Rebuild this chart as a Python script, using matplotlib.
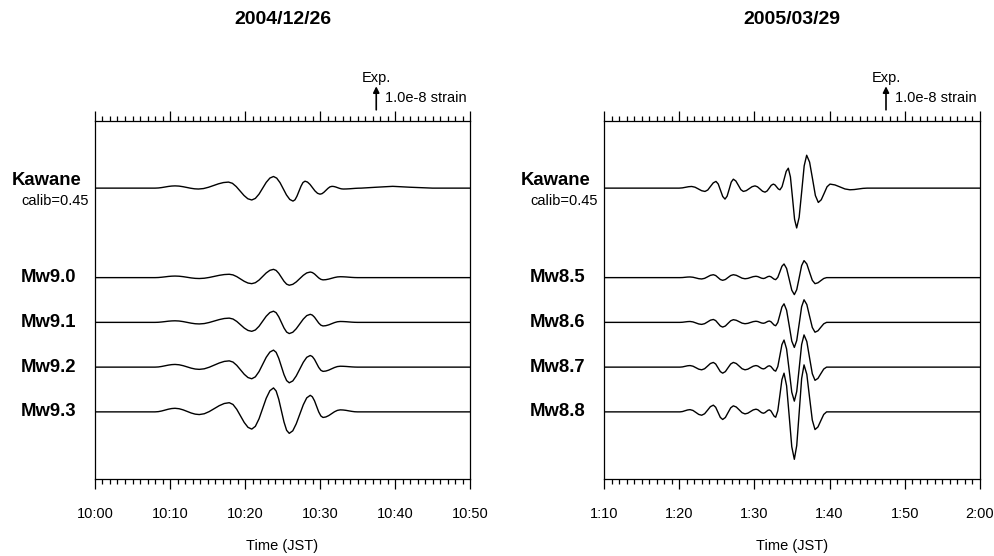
import matplotlib
matplotlib.use('Agg')
import matplotlib.pyplot as plt
import matplotlib.transforms as mtransforms
from matplotlib.ticker import MultipleLocator
import numpy as np

plt.rcParams['font.family'] = ['Liberation Sans', 'DejaVu Sans']

# ---------------- text ----------------
titles = ['2004/12/26', '2005/03/29']
left_ticklabels = ['10:00', '10:10', '10:20', '10:30', '10:40', '10:50']
right_ticklabels = ['1:10', '1:20', '1:30', '1:40', '1:50', '2:00']
left_labels = ['Mw9.0', 'Mw9.1', 'Mw9.2', 'Mw9.3']
right_labels = ['Mw8.5', 'Mw8.6', 'Mw8.7', 'Mw8.8']
obs_label = 'Kawane'
calib_label = 'calib=0.45'
exp_label = 'Exp.'
scale_label = '1.0e-8 strain'
xlabel_text = 'Time (JST)'

# ---------------- data (time in minutes after panel start, strain in 1e-8) ----------------
t_left_obs = [0, 3, 6,
              8.0, 8.45, 8.89, 9.34, 9.78, 10.23,
              10.67, 11.19, 11.71, 12.24, 12.76, 13.28,
              13.8, 14.47, 15.13, 15.8, 16.47, 17.13,
              17.8, 18.32, 18.83, 19.35, 19.87, 20.38,
              20.9, 21.38, 21.87, 22.35, 22.83, 23.32,
              23.8, 24.23, 24.67, 25.1, 25.53, 25.97,
              26.4, 26.67, 26.93, 27.2, 27.47, 27.73,
              28.0, 28.33, 28.67, 29.0, 29.33, 29.67,
              30.0, 30.27, 30.53, 30.8, 31.07, 31.33,
              31.6, 31.85, 32.1, 32.35, 32.6, 32.85,
              33.1, 33.5, 33.9, 34.3, 34.7, 35.1,
              35.5, 37.5, 39.7, 42, 45, 50]
kawane_left = [0, 0, 0,
               0.000, 0.007, 0.025, 0.050, 0.075, 0.093,
               0.100, 0.091, 0.065, 0.030, -0.005, -0.031,
               -0.040, -0.019, 0.038, 0.115, 0.193, 0.249,
               0.270, 0.216, 0.070, -0.130, -0.330, -0.476,
               -0.530, -0.460, -0.268, -0.005, 0.258, 0.450,
               0.520, 0.446, 0.245, -0.030, -0.305, -0.506,
               -0.580, -0.520, -0.358, -0.135, 0.088, 0.250,
               0.310, 0.271, 0.165, 0.020, -0.125, -0.231,
               -0.270, -0.247, -0.183, -0.095, -0.008, 0.057,
               0.080, 0.072, 0.050, 0.020, -0.010, -0.032,
               -0.040, -0.037, -0.030, -0.020, -0.010, -0.003,
               0.000, 0.040, 0.080, 0.040, 0.000, 0.000]

t_left_syn = [0, 2, 4, 6,
              8.0, 8.45, 8.89, 9.34, 9.78, 10.23,
              10.67, 11.21, 11.75, 12.29, 12.82, 13.36,
              13.9, 14.57, 15.23, 15.9, 16.57, 17.23,
              17.9, 18.4, 18.9, 19.4, 19.9, 20.4,
              20.9, 21.38, 21.87, 22.35, 22.83, 23.32,
              23.8, 24.15, 24.5, 24.85, 25.2, 25.55,
              25.9, 26.37, 26.83, 27.3, 27.77, 28.23,
              28.7, 28.98, 29.27, 29.55, 29.83, 30.12,
              30.4, 30.78, 31.17, 31.55, 31.93, 32.32,
              32.7, 33.08, 33.47, 33.85, 34.23, 34.62,
              35.0, 38, 41, 44, 47, 50]
mw90 = [0, 0, 0, 0,
        0.000, 0.005, 0.018, 0.035, 0.053, 0.065,
        0.070, 0.063, 0.043, 0.015, -0.013, -0.033,
        -0.040, -0.027, 0.008, 0.055, 0.103, 0.137,
        0.150, 0.122, 0.045, -0.060, -0.165, -0.242,
        -0.270, -0.227, -0.110, 0.050, 0.210, 0.327,
        0.370, 0.322, 0.193, 0.015, -0.163, -0.292,
        -0.340, -0.300, -0.193, -0.045, 0.103, 0.210,
        0.250, 0.227, 0.163, 0.075, -0.013, -0.077,
        -0.100, -0.091, -0.065, -0.030, 0.005, 0.031,
        0.040, 0.037, 0.030, 0.020, 0.010, 0.003,
        0, 0, 0, 0, 0, 0]
mw91 = [0, 0, 0, 0,
        0.000, 0.005, 0.018, 0.035, 0.053, 0.065,
        0.070, 0.061, 0.035, 0.000, -0.035, -0.061,
        -0.070, -0.053, -0.005, 0.060, 0.125, 0.173,
        0.190, 0.150, 0.043, -0.105, -0.253, -0.360,
        -0.400, -0.340, -0.175, 0.050, 0.275, 0.440,
        0.500, 0.433, 0.250, 0.000, -0.250, -0.433,
        -0.500, -0.442, -0.285, -0.070, 0.145, 0.302,
        0.360, 0.325, 0.230, 0.100, -0.030, -0.125,
        -0.160, -0.147, -0.110, -0.060, -0.010, 0.027,
        0.040, 0.037, 0.030, 0.020, 0.010, 0.003,
        0, 0, 0, 0, 0, 0]
mw92 = [0, 0, 0, 0,
        0.000, 0.008, 0.030, 0.060, 0.090, 0.112,
        0.120, 0.105, 0.065, 0.010, -0.045, -0.085,
        -0.100, -0.075, -0.005, 0.090, 0.185, 0.255,
        0.280, 0.226, 0.080, -0.120, -0.320, -0.466,
        -0.520, -0.434, -0.200, 0.120, 0.440, 0.674,
        0.760, 0.662, 0.395, 0.030, -0.335, -0.602,
        -0.700, -0.618, -0.395, -0.090, 0.215, 0.438,
        0.520, 0.472, 0.343, 0.165, -0.013, -0.142,
        -0.190, -0.175, -0.133, -0.075, -0.018, 0.025,
        0.040, 0.037, 0.030, 0.020, 0.010, 0.003,
        0, 0, 0, 0, 0, 0]
mw93 = [0, 0, 0, 0,
        0.000, 0.011, 0.040, 0.080, 0.120, 0.149,
        0.160, 0.141, 0.090, 0.020, -0.050, -0.101,
        -0.120, -0.084, 0.013, 0.145, 0.278, 0.374,
        0.410, 0.331, 0.115, -0.180, -0.475, -0.691,
        -0.770, -0.647, -0.310, 0.150, 0.610, 0.947,
        1.070, 0.934, 0.563, 0.055, -0.453, -0.824,
        -0.960, -0.846, -0.535, -0.110, 0.315, 0.626,
        0.740, 0.674, 0.493, 0.245, -0.003, -0.184,
        -0.250, -0.227, -0.165, -0.080, 0.005, 0.067,
        0.090, 0.084, 0.068, 0.045, 0.023, 0.006,
        0, 0, 0, 0, 0, 0]

t_right_obs = [0, 4, 8,
               10.00, 10.42, 10.83, 11.25,
               11.66, 12.10, 12.55, 12.99,
               13.43, 13.80, 14.16, 14.53,
               14.89, 15.19, 15.49, 15.79,
               16.09, 16.37, 16.65, 16.92,
               17.20, 17.53, 17.87, 18.20,
               18.53, 18.92, 19.31, 19.69,
               20.08, 20.41, 20.75, 21.08,
               21.41, 21.69, 21.97, 22.24,
               22.52, 22.74, 22.96, 23.18,
               23.40, 23.68, 23.96, 24.23,
               24.51, 24.79, 25.07, 25.34,
               25.62, 25.95, 26.29, 26.62,
               26.95, 27.34, 27.73, 28.11,
               28.50, 28.89, 29.28, 29.66,
               30.05, 30.71, 31.38, 32.04,
               32.70, 33.28, 33.85, 34.43,
               35.0, 40, 45, 50]
kawane_right = [0, 0, 0,
                0.000, 0.011, 0.037, 0.063,
                0.074, 0.042, -0.037, -0.116,
                -0.148, -0.083, 0.076, 0.235,
                0.300, 0.185, -0.095, -0.375,
                -0.490, -0.360, -0.045, 0.270,
                0.400, 0.320, 0.126, -0.068,
                -0.148, -0.112, -0.024, 0.064,
                0.100, 0.059, -0.040, -0.139,
                -0.180, -0.127, 0.000, 0.127,
                0.180, 0.143, 0.053, -0.037,
                -0.074, 0.067, 0.408, 0.749,
                0.890, 0.500, -0.445, -1.390,
                -1.780, -1.306, -0.155, 0.996,
                1.470, 1.162, 0.415, -0.332,
                -0.640, -0.520, -0.230, 0.060,
                0.180, 0.143, 0.053, -0.037,
                -0.074, -0.063, -0.037, -0.011,
                0, 0, 0, 0]

t_right_syn = [0, 4, 8,
               10.10, 10.44, 10.77, 11.11,
               11.44, 11.83, 12.22, 12.60,
               12.99, 13.38, 13.77, 14.15,
               14.54, 14.85, 15.16, 15.47,
               15.78, 16.14, 16.49, 16.85,
               17.20, 17.59, 17.98, 18.36,
               18.75, 19.12, 19.48, 19.85,
               20.21, 20.46, 20.70, 20.95,
               21.19, 21.39, 21.59, 21.79,
               21.99, 22.20, 22.41, 22.62,
               22.83, 23.11, 23.39, 23.66,
               23.94, 24.28, 24.63, 24.97,
               25.31, 25.63, 25.96, 26.28,
               26.60, 26.97, 27.33, 27.70,
               28.06, 28.45, 28.83, 29.22,
               29.60, 32, 36, 40, 45, 50]
mw85 = [0, 0, 0,
        0.000, 0.004, 0.015, 0.026,
        0.030, 0.017, -0.015, -0.047,
        -0.060, -0.032, 0.035, 0.102,
        0.130, 0.094, 0.005, -0.084,
        -0.120, -0.084, 0.005, 0.094,
        0.130, 0.104, 0.040, -0.024,
        -0.050, -0.034, 0.005, 0.044,
        0.060, 0.045, 0.010, -0.025,
        -0.040, -0.025, 0.010, 0.045,
        0.060, 0.038, -0.015, -0.068,
        -0.090, 0.012, 0.260, 0.508,
        0.610, 0.410, -0.075, -0.560,
        -0.760, -0.538, 0.000, 0.538,
        0.760, 0.610, 0.245, -0.120,
        -0.270, -0.231, -0.135, -0.039,
        0, 0, 0, 0, 0, 0]
mw86 = [0, 0, 0,
        0.000, 0.006, 0.020, 0.034,
        0.040, 0.021, -0.025, -0.071,
        -0.090, -0.058, 0.020, 0.098,
        0.130, 0.080, -0.040, -0.160,
        -0.210, -0.162, -0.045, 0.072,
        0.120, 0.094, 0.030, -0.034,
        -0.060, -0.044, -0.005, 0.034,
        0.050, 0.037, 0.005, -0.027,
        -0.040, -0.025, 0.010, 0.045,
        0.060, 0.029, -0.045, -0.119,
        -0.150, -0.007, 0.340, 0.687,
        0.830, 0.545, -0.145, -0.835,
        -1.120, -0.809, -0.055, 0.699,
        1.010, 0.798, 0.285, -0.228,
        -0.440, -0.376, -0.220, -0.064,
        0, 0, 0, 0, 0, 0]
mw87 = [0, 0, 0,
        0.000, 0.010, 0.035, 0.060,
        0.070, 0.042, -0.025, -0.092,
        -0.120, -0.072, 0.045, 0.162,
        0.210, 0.140, -0.030, -0.200,
        -0.270, -0.200, -0.030, 0.140,
        0.210, 0.162, 0.045, -0.072,
        -0.120, -0.092, -0.025, 0.042,
        0.070, 0.048, -0.005, -0.058,
        -0.080, -0.060, -0.010, 0.040,
        0.060, 0.025, -0.060, -0.145,
        -0.180, 0.023, 0.515, 1.007,
        1.210, 0.811, -0.155, -1.121,
        -1.520, -1.088, -0.040, 1.008,
        1.440, 1.144, 0.425, -0.294,
        -0.590, -0.504, -0.295, -0.086,
        0, 0, 0, 0, 0, 0]
mw88 = [0, 0, 0,
        0.000, 0.015, 0.050, 0.085,
        0.100, 0.064, -0.025, -0.114,
        -0.150, -0.084, 0.075, 0.234,
        0.300, 0.207, -0.020, -0.247,
        -0.340, -0.251, -0.035, 0.181,
        0.270, 0.217, 0.090, -0.037,
        -0.090, -0.059, 0.015, 0.089,
        0.120, 0.094, 0.030, -0.034,
        -0.060, -0.038, 0.015, 0.068,
        0.090, 0.042, -0.075, -0.192,
        -0.240, 0.048, 0.745, 1.442,
        1.730, 1.168, -0.195, -1.558,
        -2.120, -1.504, -0.010, 1.484,
        2.100, 1.678, 0.655, -0.368,
        -0.790, -0.675, -0.395, -0.115,
        0, 0, 0, 0, 0, 0]

panels = [
    dict(title=titles[0], ticklabels=left_ticklabels, t_obs=t_left_obs, obs=kawane_left,
         t_syn=t_left_syn, syn=[mw90, mw91, mw92, mw93], labels=left_labels),
    dict(title=titles[1], ticklabels=right_ticklabels, t_obs=t_right_obs, obs=kawane_right,
         t_syn=t_right_syn, syn=[mw85, mw86, mw87, mw88], labels=right_labels),
]

W, H = 995, 556
fig = plt.figure(figsize=(W / 100, H / 100), dpi=100)
ax_boxes = [(95, 121, 470, 479), (604, 121, 980, 479)]

spacing = 2.0
for p, (x0, y0, x1, y1) in zip(panels, ax_boxes):
    ax = fig.add_axes([x0 / W, 1 - y1 / H, (x1 - x0) / W, (y1 - y0) / H])
    n = len(p['syn'])
    obs_off = spacing * (n + 1)
    ax.plot(p['t_obs'], np.asarray(p['obs']) + obs_off, color='black', lw=1.0)
    for i, s in enumerate(p['syn']):
        off = spacing * (n - 1 - i)
        ax.plot(p['t_syn'], np.asarray(s) + off, color='black', lw=1.0)
    ax.set_xlim(0, 50)
    ax.set_ylim(-3, 13)
    ax.set_yticks([])
    ax.set_xticks(np.arange(0, 51, 10))
    ax.set_xticklabels(p['ticklabels'], fontsize=10.5)
    ax.xaxis.set_minor_locator(MultipleLocator(1))
    ax.tick_params(axis='x', which='both', direction='out', top=True, bottom=True,
                   labeltop=False, width=0.9, pad=12.5)
    ax.tick_params(axis='x', which='major', length=7.5)
    ax.tick_params(axis='x', which='minor', length=3.8)
    for sp in ax.spines.values():
        sp.set_linewidth(0.9)

    trans = mtransforms.blended_transform_factory(ax.transAxes, ax.transData)
    ax.text(-0.037, obs_off + 0.32, obs_label, transform=trans, ha='right', va='center',
            fontsize=13.3, fontweight='bold')
    ax.text(-0.016, obs_off - 0.58, calib_label, transform=trans, ha='right', va='center',
            fontsize=10.5)
    for i, lab in enumerate(p['labels']):
        off = spacing * (n - 1 - i)
        ax.text(-0.05, off, lab, transform=trans, ha='right', va='center',
                fontsize=13.3, fontweight='bold')

    # scale arrow
    ax.annotate('', xy=(37.5, 14.55), xytext=(37.5, 13.5), xycoords='data',
                arrowprops=dict(arrowstyle='-|>', color='black', lw=1.2,
                                mutation_scale=9, shrinkA=0, shrinkB=0),
                annotation_clip=False)
    ax.text(37.5, 14.74, exp_label, ha='center', va='baseline', fontsize=10.5, clip_on=False)
    ax.text(38.7, 14.05, scale_label, ha='left', va='center', fontsize=10.5, clip_on=False)

    cx = ((x0 + x1) / 2) / W
    fig.text(cx, 1 - 20 / H, p['title'], ha='center', va='center',
             fontsize=14, fontweight='bold')
    fig.text(cx, 1 - 546 / H, xlabel_text, ha='center', va='center', fontsize=10.5)

fig.savefig('out.png', dpi=100)
